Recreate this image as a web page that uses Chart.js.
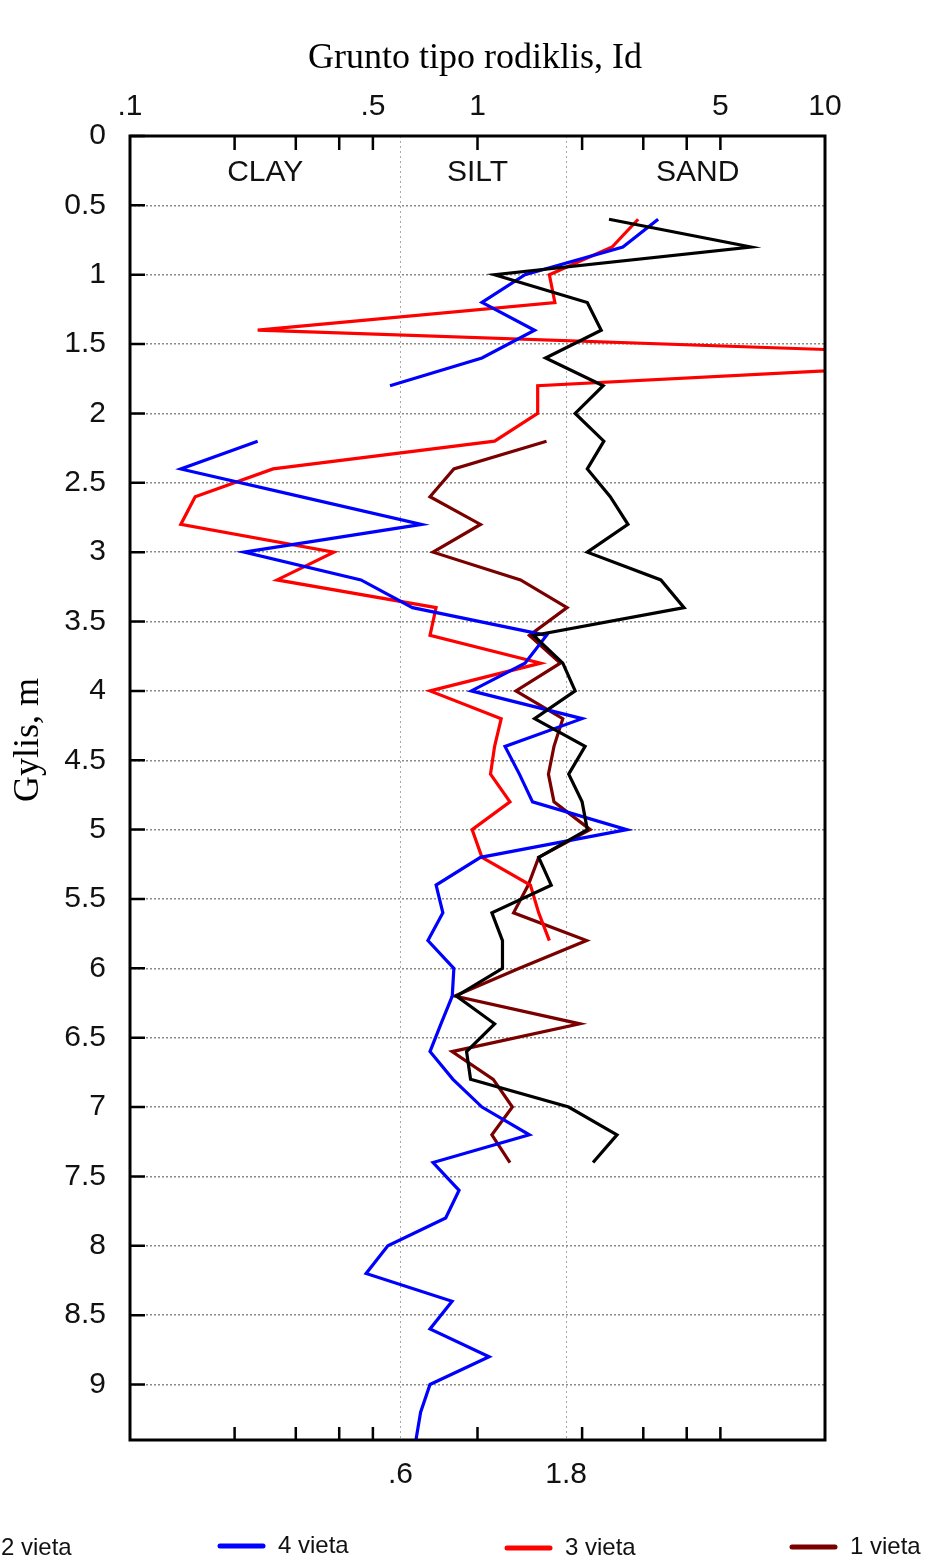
<!DOCTYPE html>
<html>
<head>
<meta charset="utf-8">
<script src="https://cdn.jsdelivr.net/npm/chart.js@4.4.1/dist/chart.umd.min.js"></script>
<style>
  html, body { margin: 0; padding: 0; background: #fff; }
  #wrap { width: 928px; height: 1562px; }
</style>
</head>
<body>
<div id="wrap"><canvas id="myChart" width="928" height="1562"></canvas></div>
<script>
// ---- data (Id value at each depth, m)
const gylis2 = [0.6, 0.8, 1.0, 1.2, 1.4, 1.6, 1.8, 2.0, 2.2, 2.4, 2.6, 2.8, 3.0, 3.2, 3.4, 3.6, 3.8, 4.0,
                4.2, 4.4, 4.6, 4.8, 5.0, 5.2, 5.4, 5.6, 5.8, 6.0, 6.2, 6.4, 6.6, 6.8, 7.0, 7.2, 7.4];
const vieta2 = [2.39, 6.12, 1.12, 2.07, 2.27, 1.57, 2.30, 1.91, 2.31, 2.07, 2.41, 2.71, 2.07, 3.37, 3.93, 1.45, 1.76, 1.91,
                1.46, 2.04, 1.83, 2.00, 2.07, 1.50, 1.63, 1.10, 1.18, 1.18, 0.87, 1.12, 0.93, 0.955, 1.83, 2.52, 2.15];

const gylis4 = [0.6, 0.8, 1.0, 1.2, 1.4, 1.6, 1.8, 2.0, 2.2, 2.4, 2.6, 2.8, 3.0, 3.2, 3.4, 3.6, 3.8, 4.0,
                4.2, 4.4, 4.6, 4.8, 5.0, 5.2, 5.4, 5.6, 5.8, 6.0, 6.2, 6.4, 6.6, 6.8, 7.0, 7.2, 7.4, 7.6,
                7.8, 8.0, 8.2, 8.4, 8.6, 8.8, 9.0, 9.2, 9.4];
const vieta4 = [3.31, 2.62, 1.37, 1.03, 1.46, 1.03, 0.56, null, 0.233, 0.140, 0.31, 0.69, 0.213, 0.462, 0.65, 1.58, 1.37, 0.96,
                2.00, 1.20, 1.32, 1.44, 2.69, 1.02, 0.76, 0.795, 0.72, 0.855, 0.846, 0.785, 0.73, 0.85, 1.03, 1.41, 0.745, 0.885,
                0.81, 0.552, 0.478, 0.845, 0.73, 1.08, 0.73, 0.686, 0.665];

const gylis3 = [0.6, 0.8, 1.0, 1.2, 1.4, 1.6, 1.8, 2.0, 2.2, 2.4, 2.6, 2.8, 3.0, 3.2, 3.4, 3.6, 3.8, 4.0,
                4.2, 4.4, 4.6, 4.8, 5.0, 5.2, 5.4, 5.6, 5.8];
const vieta3 = [2.90, 2.44, 1.61, 1.67, 0.233, 52, 1.49, 1.49, 1.12, 0.258, 0.154, 0.140, 0.386, 0.265, 0.76, 0.73, 1.52, 0.73,
                1.17, 1.12, 1.09, 1.24, 0.965, 1.03, 1.42, 1.50, 1.61];

const gylis1 = [2.2, 2.4, 2.6, 2.8, 3.0, 3.2, 3.4, 3.6, 3.8, 4.0, 4.2, 4.4, 4.6, 4.8, 5.0, 5.2, 5.4, 5.6,
                5.8, 6.0, 6.2, 6.4, 6.6, 6.8, 7.0, 7.2, 7.4];
const vieta1 = [1.58, 0.855, 0.73, 1.02, 0.745, 1.33, 1.81, 1.41, 1.73, 1.29, 1.76, 1.66, 1.60, 1.66, 2.11, 1.50, 1.40, 1.27,
                2.06, 1.32, 0.86, 1.97, 0.845, 1.11, 1.26, 1.10, 1.24];

// ---- axes
const topTickValues = [0.1, 0.5, 1, 5, 10];
const topTickLabels = ['.1', '.5', '1', '5', '10'];
const bottomTickValues = [0.6, 1.8];
const bottomTickLabels = ['.6', '1.8'];
const minorTicks = [0.2, 0.3, 0.4, 0.5, 1, 2, 3, 4, 5];
const depthTicks = [0, 0.5, 1, 1.5, 2, 2.5, 3, 3.5, 4, 4.5, 5, 5.5, 6, 6.5, 7, 7.5, 8, 8.5, 9];
const zoneNames = ['CLAY', 'SILT', 'SAND'];
const zoneAt = [0.245, 1.0, 4.3];

const titleX = 'Grunto tipo rodiklis, Id';
const titleY = 'Gylis, m';

// legend is ordered like in the picture, first item runs off the left edge
const legendOrder = ['2 vieta', '4 vieta', '3 vieta', '1 vieta'];
const legendLeft = [-57, 220, 507, 792];
const legendY = [1548, 1546, 1548, 1547];

const toPoints = (ys, xs) => ys.map((d, i) => ({ x: xs[i], y: d }));

const series = [
    { label: '2 vieta', color: '#000000', data: toPoints(gylis2, vieta2) },
    { label: '4 vieta', color: '#0000ff', data: toPoints(gylis4, vieta4) },
    { label: '3 vieta', color: '#ff0000', data: toPoints(gylis3, vieta3) },
    { label: '1 vieta', color: '#7a0000', data: toPoints(gylis1, vieta1) },
];

const fontSans = '"Liberation Sans", Arial, sans-serif';
const fontSerif = '"Liberation Serif", "Times New Roman", serif';

const extras = {
    id: 'extras',
    afterDatasetsDraw(chart) {
        const { ctx, chartArea: a, scales } = chart;
        const x = scales.x, y = scales.y;
        ctx.save();
        ctx.strokeStyle = '#000';
        ctx.lineWidth = 2.5;
        ctx.beginPath();
        minorTicks.forEach(v => {
            const px = x.getPixelForValue(v);
            ctx.moveTo(px, a.top); ctx.lineTo(px, a.top + 14);
            ctx.moveTo(px, a.bottom); ctx.lineTo(px, a.bottom - 13);
        });
        depthTicks.forEach(v => {
            const py = y.getPixelForValue(v);
            ctx.moveTo(a.left, py); ctx.lineTo(a.left + 15, py);
        });
        ctx.stroke();
        ctx.lineWidth = 3;
        ctx.strokeRect(a.left, a.top, a.right - a.left, a.bottom - a.top);

        // soil zones
        ctx.fillStyle = '#111';
        ctx.font = '30px ' + fontSans;
        ctx.textAlign = 'center';
        ctx.textBaseline = 'alphabetic';
        zoneNames.forEach((n, i) => ctx.fillText(n, x.getPixelForValue(zoneAt[i]), a.top + 45));
        ctx.restore();
    },
    afterDraw(chart) {
        const { ctx } = chart;
        ctx.save();
        ctx.fillStyle = '#000';
        ctx.font = '36px ' + fontSerif;
        ctx.textAlign = 'center';
        ctx.textBaseline = 'alphabetic';
        ctx.fillText(titleX, 475, 68);

        ctx.translate(38, 740);
        ctx.rotate(-Math.PI / 2);
        ctx.fillText(titleY, 0, 0);
        ctx.restore();

        // legend
        ctx.save();
        ctx.font = '24px ' + fontSans;
        ctx.textBaseline = 'middle';
        ctx.textAlign = 'left';
        legendOrder.forEach((name, i) => {
            const ds = chart.data.datasets.find(d => d.label === name);
            const lx = legendLeft[i], ly = legendY[i];
            ctx.strokeStyle = ds.borderColor;
            ctx.lineWidth = 5;
            ctx.lineCap = 'round';
            ctx.beginPath();
            ctx.moveTo(lx, ly); ctx.lineTo(lx + 43, ly);
            ctx.stroke();
            ctx.fillStyle = '#111';
            ctx.fillText(name, lx + 58, ly);
        });
        ctx.restore();
    }
};

const ctx = document.getElementById('myChart');

new Chart(ctx, {
    type: 'line',
    data: {
        datasets: series.map(s => ({
            label: s.label,
            data: s.data,
            borderColor: s.color,
            backgroundColor: s.color,
            borderWidth: 3.2,
            pointRadius: 0,
            tension: 0,
            fill: false,
            spanGaps: false,
        })),
    },
    options: {
        responsive: false,
        animation: false,
        layout: { padding: { left: 0, top: 0, right: 103, bottom: 62 } },
        plugins: { legend: { display: false }, tooltip: { enabled: false } },
        scales: {
            x: {
                type: 'logarithmic',
                position: 'top',
                min: 0.1,
                max: 10,
                afterBuildTicks: s => { s.ticks = topTickValues.map(v => ({ value: v })); },
                afterFit: s => { s.height = 136; },
                grid: { display: false },
                border: { display: false },
                ticks: {
                    autoSkip: false,
                    maxRotation: 0,
                    padding: 3,
                    color: '#111',
                    font: { family: fontSans, size: 30 },
                    callback: (v, i) => topTickLabels[i],
                },
            },
            x2: {
                type: 'logarithmic',
                position: 'bottom',
                min: 0.1,
                max: 10,
                afterBuildTicks: s => { s.ticks = bottomTickValues.map(v => ({ value: v })); },
                afterFit: s => { s.height = 60; },
                grid: { color: '#a8a8a8', lineWidth: 1, drawTicks: false },
                border: { display: false, dash: [2, 3] },
                ticks: {
                    autoSkip: false,
                    maxRotation: 0,
                    padding: 17,
                    color: '#111',
                    font: { family: fontSans, size: 30 },
                    callback: (v, i) => bottomTickLabels[i],
                },
            },
            y: {
                type: 'linear',
                reverse: true,
                min: 0,
                max: 9.4,
                afterBuildTicks: s => { s.ticks = depthTicks.map(v => ({ value: v })); },
                afterFit: s => { s.width = 130; },
                grid: { color: '#8a8a8a', lineWidth: 1.5, drawTicks: false },
                border: { display: false, dash: [2, 2] },
                ticks: {
                    padding: 24,
                    color: '#111',
                    font: { family: fontSans, size: 30 },
                    callback: v => String(v),
                },
            },
        },
    },
    plugins: [extras],
});
</script>
</body>
</html>
